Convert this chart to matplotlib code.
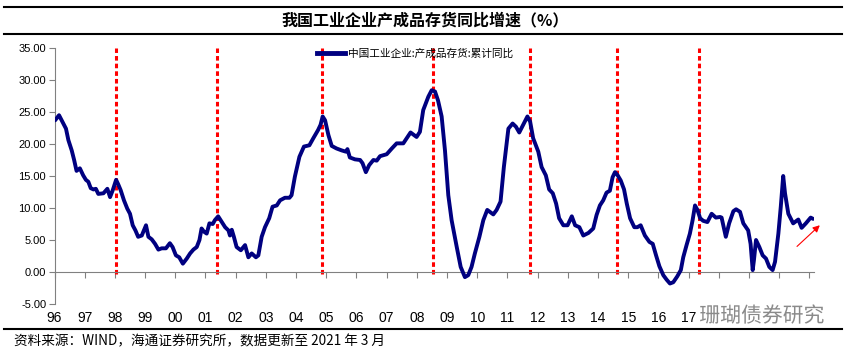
import matplotlib
matplotlib.use("Agg")
import matplotlib.pyplot as plt
from matplotlib.lines import Line2D
import matplotlib.patheffects as pe

plt.rcParams['font.family'] = ['Liberation Sans', 'Noto Sans CJK SC', 'DejaVu Sans']

# 中国工业企业:产成品存货:累计同比 (时间, %)
dates = [1996.02, 1996.15, 1996.29, 1996.38, 1996.46, 1996.57, 1996.65, 1996.73, 1996.84, 1996.95,
         1997.04, 1997.12, 1997.20, 1997.29, 1997.37, 1997.45, 1997.62, 1997.75, 1997.84, 1997.93,
         1998.04, 1998.11, 1998.19, 1998.30, 1998.41, 1998.50, 1998.59, 1998.68, 1998.77, 1998.89,
         1999.03, 1999.11, 1999.22, 1999.33, 1999.44, 1999.55, 1999.69, 1999.82, 1999.91,
         2000.02, 2000.13, 2000.25, 2000.38, 2000.49, 2000.60, 2000.71, 2000.80, 2000.87, 2000.95,
         2001.04, 2001.13, 2001.24, 2001.31, 2001.42, 2001.54, 2001.65, 2001.76, 2001.81, 2001.87, 2001.94,
         2002.03, 2002.17, 2002.31, 2002.42, 2002.53, 2002.67, 2002.75, 2002.86, 2002.97,
         2003.11, 2003.22, 2003.36, 2003.47, 2003.63, 2003.78, 2003.85, 2003.96,
         2004.11, 2004.26, 2004.44, 2004.57, 2004.73, 2004.81, 2004.88, 2004.96,
         2005.07, 2005.18, 2005.34, 2005.51, 2005.65, 2005.70, 2005.78, 2005.95,
         2006.12, 2006.20, 2006.31, 2006.42, 2006.56, 2006.67, 2006.78,
         2007.00, 2007.17, 2007.33, 2007.55, 2007.79, 2007.99,
         2008.10, 2008.21, 2008.38, 2008.49, 2008.60, 2008.70, 2008.82, 2008.93,
         2009.04, 2009.15, 2009.32, 2009.45, 2009.59, 2009.70, 2009.81, 2009.92,
         2010.07, 2010.20, 2010.33, 2010.53, 2010.64, 2010.77, 2010.88,
         2011.03, 2011.17, 2011.28, 2011.39, 2011.52, 2011.66, 2011.75, 2011.85,
         2012.02, 2012.13, 2012.27, 2012.38, 2012.50, 2012.61, 2012.71, 2012.85, 2012.99,
         2013.13, 2013.24, 2013.38, 2013.51, 2013.68, 2013.84, 2013.95,
         2014.06, 2014.17, 2014.28, 2014.39, 2014.48, 2014.56, 2014.65, 2014.75, 2014.86, 2014.95,
         2015.06, 2015.20, 2015.30, 2015.41, 2015.55, 2015.70, 2015.81, 2015.92,
         2016.03, 2016.16, 2016.27, 2016.38, 2016.49, 2016.62, 2016.74, 2016.82, 2016.93,
         2017.04, 2017.13, 2017.21, 2017.29, 2017.38, 2017.48, 2017.62, 2017.76, 2017.90,
         2018.04, 2018.09, 2018.23, 2018.34, 2018.48, 2018.57, 2018.70, 2018.81, 2018.97,
         2019.05, 2019.12, 2019.16, 2019.23, 2019.34, 2019.45, 2019.56, 2019.67, 2019.78, 2019.86, 2019.97,
         2020.05, 2020.13, 2020.19, 2020.30, 2020.46, 2020.63, 2020.74, 2020.88,
         2021.04, 2021.12]
values = [23.7, 24.5, 23.2, 22.4, 20.6, 19.0, 17.5, 15.8, 16.2, 15.1,
          14.4, 14.1, 13.1, 12.9, 13.0, 12.2, 12.3, 13.0, 11.7, 12.8,
          14.4, 13.7, 12.8, 11.2, 9.9, 9.1, 7.3, 6.5, 5.5, 5.7,
          7.3, 5.5, 5.1, 4.4, 3.5, 3.7, 3.7, 4.5, 3.9,
          2.6, 2.3, 1.3, 2.1, 2.9, 3.5, 3.9, 5.0, 6.8, 6.3,
          6.0, 7.6, 7.5, 8.1, 8.7, 7.8, 7.0, 6.5, 5.7, 6.6, 5.5,
          3.9, 3.4, 4.2, 2.3, 2.9, 2.3, 2.6, 5.5, 7.0,
          8.4, 10.2, 10.4, 11.2, 11.6, 11.6, 12.0, 14.9,
          18.0, 19.6, 19.8, 20.9, 22.2, 23.0, 24.3, 23.7,
          21.4, 19.7, 19.3, 19.0, 18.8, 19.2, 17.9, 17.6,
          17.5, 17.0, 15.6, 16.7, 17.5, 17.4, 18.1,
          18.4, 19.3, 20.1, 20.1, 21.8, 21.1,
          21.9, 25.3, 27.4, 28.4, 28.2, 26.8, 24.3, 19.0,
          12.0, 8.1, 3.9, 0.8, -0.8, -0.5, 0.8, 2.9,
          5.5, 8.1, 9.7, 9.0, 9.7, 11.0, 16.4,
          22.4, 23.2, 22.7, 21.8, 23.0, 24.3, 23.5, 20.9,
          18.8, 16.4, 15.1, 12.9, 12.3, 10.7, 8.4, 7.3, 7.3,
          8.7, 7.3, 7.0, 5.7, 6.1, 6.8, 8.9,
          10.4, 11.2, 12.4, 12.7, 14.8, 15.6, 15.1, 14.3, 12.9, 10.7,
          8.4, 7.0, 7.0, 7.3, 5.7, 4.7, 4.4, 2.6,
          0.9, -0.5, -1.2, -1.8, -1.6, -0.7, 0.3, 2.3, 4.2,
          6.0, 8.1, 10.4, 9.7, 8.4, 8.0, 7.8, 9.1, 8.5,
          8.6, 8.5, 5.5, 7.6, 9.5, 9.8, 9.4, 7.6, 6.5,
          4.4, 0.3, 1.8, 5.0, 3.9, 2.6, 2.1, 0.8, 0.3, 1.6, 6.0,
          10.2, 15.0, 12.3, 9.1, 7.6, 8.2, 6.9, 7.6,
          8.5, 8.3]

# 红色虚线标记的时点
marks = [1998.05, 2001.39, 2004.87, 2008.54, 2011.74, 2014.64, 2017.34]

years = list(range(1996, 2022))
# 18-21 的刻度标签被水印盖住
year_labels = ['%02d' % (y % 100) if y <= 2017 else '' for y in years]
yticks = [-5, 0, 5, 10, 15, 20, 25, 30, 35]

fig = plt.figure(figsize=(8.5, 3.55), dpi=100)
ax = fig.add_axes([54.5 / 850, 1 - 304 / 355, (814 - 54.5) / 850, 256 / 355])

ax.vlines(marks, -0.3, 35, colors='#ff0000', linewidth=2.2, linestyles=(0, (1.5, 1.0)), zorder=2)
ax.plot(dates, values, color='#000080', linewidth=2.8, solid_joinstyle='round',
        solid_capstyle='round', zorder=3)

ax.set_xlim(1996, 2021.15)
ax.set_ylim(-5, 35)
ax.set_yticks(yticks)
ax.set_yticklabels(['%.2f' % v for v in yticks], fontsize=8)
ax.set_xticks(years)
ax.set_xticklabels(year_labels, fontsize=8)

for s in ['top', 'right']:
    ax.spines[s].set_visible(False)
ax.spines['left'].set_color('#808080')
ax.spines['bottom'].set_color('#808080')
ax.spines['bottom'].set_position(('data', 0))
ax.tick_params(axis='y', direction='out', length=4, color='#808080', pad=2)
ax.tick_params(axis='x', direction='out', length=4, color='#808080', pad=24)

# 图例
leg_line = Line2D([0], [0], color='#000080', linewidth=3.5)
ax.legend([leg_line], ['中国工业企业:产成品存货:累计同比'], loc='upper left',
          bbox_to_anchor=((308 - 54.5) / 760, 1.035), frameon=False, handlelength=2.6,
          handletextpad=0.3, prop={'family': 'Noto Sans CJK SC', 'size': 7.7})

# 箭头
ax.annotate('', xy=(2021.41, 7.6), xytext=(2020.52, 3.7), annotation_clip=False,
            arrowprops=dict(arrowstyle='-|>', color='#ff0000', lw=0.8, mutation_scale=10))

# 标题与边线
for yp in [7, 34, 329]:
    fig.add_artist(Line2D([4 / 850, 842 / 850], [1 - yp / 355, 1 - yp / 355],
                          color='black', linewidth=1.5))
fig.text(0.5, 1 - 20.5 / 355, '我国工业企业产成品存货同比增速（%）', ha='center', va='center',
         fontsize=11.5, fontweight='bold', family=['Noto Sans CJK SC', 'DejaVu Sans'])
fig.text(14 / 850, 1 - 341.5 / 355, '资料来源：WIND，海通证券研究所，数据更新至 2021 年 3 月',
         ha='left', va='center', fontsize=9.8, family=['Noto Sans CJK SC', 'DejaVu Sans'])
wm = fig.text(762 / 850, 1 - 316 / 355, '珊瑚债券研究', ha='center', va='center', fontsize=15,
              color='#8a8a8a', family=['Noto Sans CJK SC', 'DejaVu Sans'])
wm.set_path_effects([pe.withStroke(linewidth=2, foreground='white')])

fig.savefig('out.png', dpi=100)
